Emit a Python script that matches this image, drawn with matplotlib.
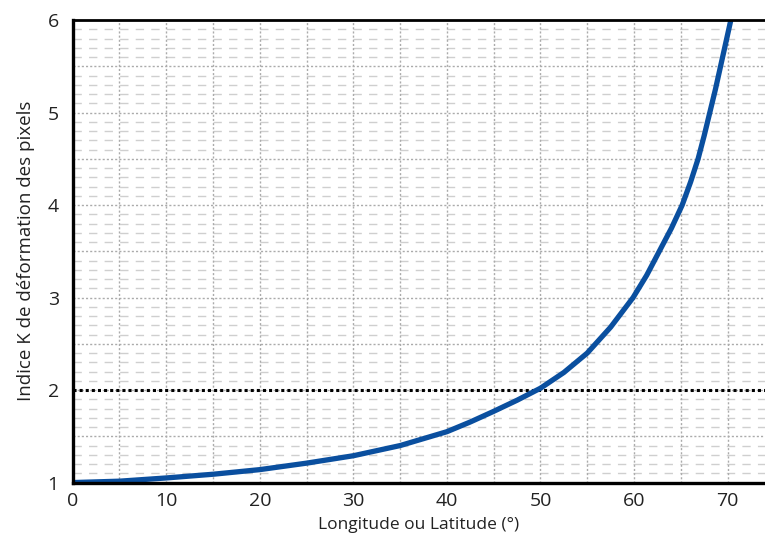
import matplotlib
matplotlib.use("Agg")
import matplotlib.pyplot as plt
import numpy as np

# Data
longitude = [0, 5, 10, 15, 20, 25, 30, 35, 40, 42.5, 45, 47.5, 50, 52.5, 55, 57.5,
             59.9, 61.35, 62.7, 64.0, 65.15, 66.05, 66.85, 67.5, 68.1, 68.7, 69.25, 69.8, 70.35]
indice_k = [1.0, 1.015, 1.05, 1.09, 1.14, 1.21, 1.29, 1.40, 1.55, 1.655, 1.77, 1.89, 2.02, 2.19, 2.40, 2.68,
            3.0, 3.24, 3.5, 3.75, 4.0, 4.25, 4.5, 4.75, 5.0, 5.25, 5.5, 5.75, 6.0]
seuil = 2.0
x_ticks = [0, 10, 20, 30, 40, 50, 60, 70]
y_ticks = [1, 2, 3, 4, 5, 6]

plt.rcParams['font.family'] = ['Open Sans', 'DejaVu Sans']

fig = plt.figure(figsize=(7.65, 5.41), dpi=100)
ax = fig.add_axes([0.095, 0.108, 0.905, 0.855])
ax.set_xlim(0, 74)
ax.set_ylim(1, 6)

# minor horizontal dashed grid (every 0.1)
for v in np.arange(1.1, 6.0, 0.1):
    if abs(v * 2 - round(v * 2)) < 1e-6:
        continue
    ax.axhline(v, color='#cfcfcf', lw=1.0, dashes=(6.0, 5.2), zorder=1)
# major dotted grid
for v in np.arange(1.5, 6.0, 0.5):
    ax.axhline(v, color='#ababab', lw=1.0, linestyle=(0, (1.5, 1.5)), zorder=2)
for v in np.arange(5, 75, 5):
    ax.axvline(v, color='#ababab', lw=1.0, linestyle=(0, (1.5, 1.5)), zorder=2)

ax.axhline(seuil, color='black', lw=2.2, linestyle=(0, (1, 1)), zorder=3)
ax.plot(longitude, indice_k, color='#0a4f9f', lw=3.8, solid_capstyle='butt',
        solid_joinstyle='round', zorder=4)

ax.set_xticks(x_ticks)
ax.set_yticks(y_ticks)
ax.tick_params(length=0, labelsize=14, colors='#222222')
ax.tick_params(axis='x', pad=7)
ax.tick_params(axis='y', pad=10)
ax.set_xlabel('Longitude ou Latitude (°)', fontsize=12.5, labelpad=5, color='#222222')
ax.set_ylabel('Indice K de déformation des pixels', fontsize=13.5, labelpad=9, color='#222222')

for s in ['left', 'bottom']:
    ax.spines[s].set_linewidth(2.4)
ax.spines['top'].set_linewidth(2.0)
ax.spines['right'].set_visible(False)
for s in ax.spines.values():
    s.set_zorder(5)

fig.savefig('out.png', dpi=100)
